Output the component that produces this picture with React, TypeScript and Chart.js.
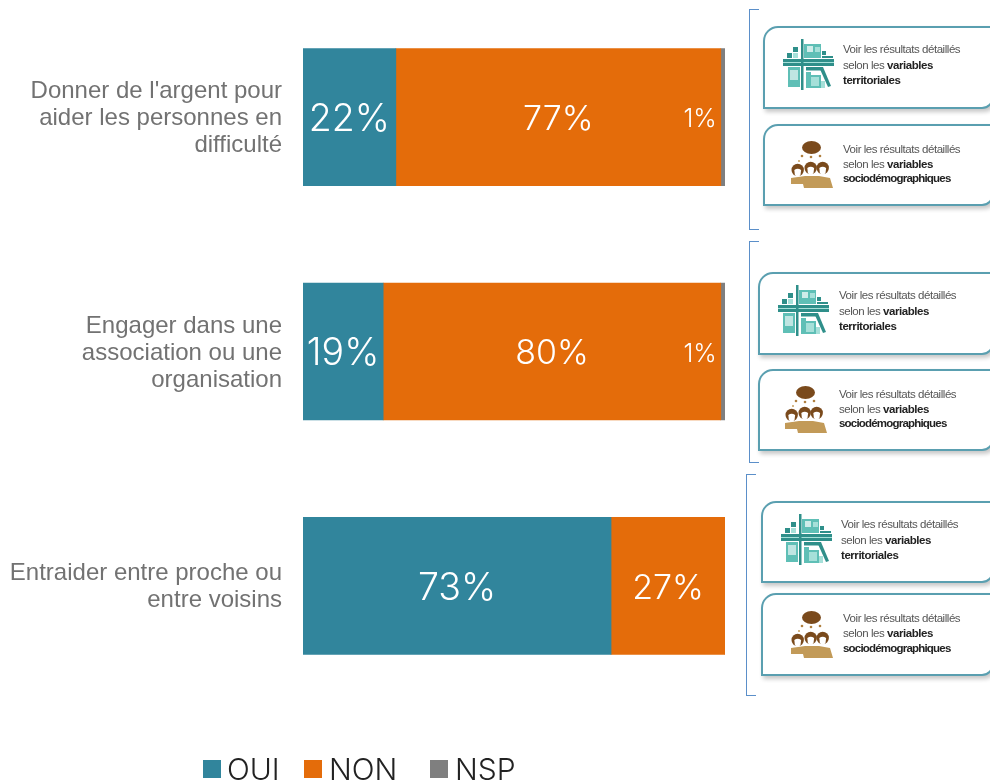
import React, { useEffect, useRef } from "react";
import { Chart, registerables } from "chart.js";

Chart.register(...registerables);

const categories: string[][] = [
  ["Donner de l'argent pour", "aider les personnes en", "difficulté"],
  ["Engager dans une", "association ou une", "organisation"],
  ["Entraider entre proche ou", "entre voisins"],
];
const oui = [22, 19, 73];
const non = [77, 80, 27];
const nsp = [1, 1, 0];
const seriesNames = ["OUI", "NON", "NSP"];
const seriesColors = ["#31859C", "#E46C0A", "#7F7F7F"];
const labelSizes = [37.5, 34, 25];

const FONT = '"Liberation Sans", Arial, sans-serif';
const LIGHT = 'Inter, "Liberation Sans", sans-serif';

const labelPlugin = {
  id: "valueLabels",
  afterDatasetsDraw(chart: any) {
    const { ctx } = chart;
    chart.data.datasets.forEach((ds: any, i: number) => {
      chart.getDatasetMeta(i).data.forEach((bar: any, j: number) => {
        const v = ds.data[j];
        if (!v) return;
        ctx.save();
        ctx.fillStyle = "#fff";
        ctx.font = `300 ${labelSizes[i]}px ${LIGHT}`;
        ctx.textBaseline = "middle";
        if (i === 2) {
          ctx.textAlign = "right";
          ctx.fillText(`${v}%`, bar.base - 4, bar.y + 2.5);
        } else {
          ctx.textAlign = "center";
          ctx.fillText(`${v}%`, (bar.base + bar.x) / 2, bar.y + 2.5);
        }
        ctx.restore();
      });
    });
  },
};

function TerritoryIcon({ x, y }: { x: number; y: number }) {
  const d = "#2F8F8A";
  const m = "#5FBFB6";
  const l = "#A6E0D9";
  return (
    <svg style={{ position: "absolute", left: x, top: y, filter: "blur(0.4px)" }} width={52} height={52} viewBox="0 0 52 52">
      <rect x={21} y={5} width={17} height={14} fill={m} />
      <rect x={24} y={7} width={6} height={6} fill="#fff" opacity={0.7} />
      <rect x={32} y={8} width={5} height={5} fill={l} />
      <rect x={10} y={8} width={5} height={5} fill={d} />
      <rect x={10} y={14} width={5} height={5} fill={l} />
      <rect x={4} y={14} width={5} height={5} fill={d} />
      <rect x={39} y={12} width={4} height={4} fill={d} />
      <rect x={39} y={17} width={11} height={2} fill={d} />
      <rect x={0} y={20} width={51} height={7} fill={d} />
      <rect x={0} y={23} width={51} height={1} fill={l} />
      <rect x={18} y={0} width={2.5} height={51} fill={d} />
      <rect x={5} y={28} width={12} height={20} fill={m} />
      <rect x={7} y={31} width={8} height={10} fill="#fff" opacity={0.6} />
      <rect x={23} y={28} width={16} height={3.5} fill={d} />
      <polygon points="36,28 40,28 48,47 45,48" fill={d} />
      <rect x={23} y={33} width={5} height={16} fill={m} />
      <rect x={26} y={36} width={12} height={13} fill={m} />
      <rect x={28} y={38} width={8} height={9} fill={l} />
      <rect x={38} y={42} width={4} height={7} fill={l} />
    </svg>
  );
}

function PeopleIcon({ x, y }: { x: number; y: number }) {
  const hair = "#7A4A1C";
  const tan = "#C29A58";
  const heads = [
    [6.7, 29],
    [19.7, 27],
    [31.7, 27],
  ];
  return (
    <svg style={{ position: "absolute", left: x, top: y, filter: "blur(0.4px)" }} width={44} height={48} viewBox="0 0 44 48">
      <ellipse cx={20.5} cy={6.5} rx={9.5} ry={6.5} fill={hair} />
      <circle cx={20} cy={16} r={1.3} fill="#B08040" />
      <circle cx={11} cy={15} r={1.3} fill="#B08040" />
      <circle cx={29} cy={15} r={1.3} fill="#B08040" />
      <circle cx={8} cy={20} r={1} fill="#C8A060" />
      <polygon points="0,37 14,35 28,35 39,37 42,47 13,47 12,43 0,43" fill={tan} />
      {heads.map(([cx, cy], i) => (
        <g key={i}>
          <circle cx={cx} cy={cy} r={6.2} fill={hair} />
          <path d={`M${cx - 3.4} ${cy} Q${cx} ${cy - 2.5} ${cx + 3.4} ${cy} L${cx + 2.8} ${cy + 5} Q${cx} ${cy + 9} ${cx - 2.8} ${cy + 5} Z`} fill="#fff" />
        </g>
      ))}
    </svg>
  );
}

type CardP = { x: number; y: number; h: number; ix: number; iy: number; tx: number; ty: number[]; bold: string; kind: "t" | "s" };

function Card({ x, y, h, ix, iy, tx, ty, bold, kind }: CardP) {
  const lineStyle: React.CSSProperties = {
    position: "absolute",
    left: tx,
    fontFamily: FONT,
    fontSize: 11.5,
    lineHeight: "14px",
    letterSpacing: "-0.45px",
    whiteSpace: "nowrap",
    color: "#555",
    filter: "blur(0.25px)",
  };
  return (
    <>
      <div
        style={{
          position: "absolute",
          left: x,
          top: y,
          width: 994 - x,
          height: h,
          boxSizing: "border-box",
          background: "#fff",
          border: "2px solid #5A9FB0",
          borderRadius: "15px 0 12px 0",
          boxShadow: "2px 3px 4px rgba(0,0,0,0.22)",
        }}
      />
      {kind === "t" ? <TerritoryIcon x={ix} y={iy} /> : <PeopleIcon x={ix} y={iy} />}
      <div style={{ ...lineStyle, top: ty[0] - 7 }}>Voir les résultats détaillés</div>
      <div style={{ ...lineStyle, top: ty[1] - 7 }}>
        selon les <b style={{ color: "#222" }}>variables</b>
      </div>
      <div style={{ ...lineStyle, top: ty[2] - 7, color: "#222", fontWeight: 700, letterSpacing: kind === "s" ? "-0.8px" : "-0.45px" }}>{bold}</div>
    </>
  );
}

function Bracket({ x, y, h }: { x: number; y: number; h: number }) {
  const c = "1px solid #5B8FC9";
  return (
    <div
      style={{
        position: "absolute",
        left: x,
        top: y,
        width: 10,
        height: h,
        boxSizing: "border-box",
        borderLeft: c,
        borderTop: c,
        borderBottom: c,
      }}
    />
  );
}

const TERR = "territoriales";
const SOC = "sociodémographiques";

const legendBoxX = [203, 304, 430];
const legendTextX = [228, 330, 456];

export default function App() {
  const ref = useRef<HTMLCanvasElement>(null);
  useEffect(() => {
    const data = [oui, non, nsp];
    const chart = new Chart(ref.current!, {
      type: "bar",
      data: {
        labels: categories as any,
        datasets: seriesNames.map((n, i) => ({
          label: n,
          data: data[i],
          backgroundColor: seriesColors[i],
          barThickness: 137,
          borderWidth: 0,
        })),
      },
      options: {
        indexAxis: "y",
        responsive: false,
        animation: false,
        layout: { padding: { top: 0, bottom: 79, left: 0, right: 265 } },
        plugins: { legend: { display: false }, tooltip: { enabled: false } },
        scales: {
          x: { stacked: true, min: 0, max: 100, display: false },
          y: {
            stacked: true,
            grid: { display: false, drawTicks: false },
            border: { display: false },
            afterFit: (s: any) => {
              s.width = 303;
              s.paddingTop = 0;
              s.paddingBottom = 0;
            },
            ticks: {
              color: "#727272",
              padding: 21,
              labelOffset: 1.5,
              autoSkip: false,
              font: { family: FONT, size: 24, lineHeight: 1.125 },
            },
          },
        },
      },
      plugins: [labelPlugin],
    } as any);
    return () => chart.destroy();
  }, []);

  return (
    <div style={{ position: "absolute", left: 0, top: 0, width: 990, height: 782, overflow: "hidden", background: "#fff" }}>
      <canvas ref={ref} width={990} height={782} style={{ position: "absolute", left: 0, top: 0 }} />

      <Bracket x={749} y={9} h={221} />
      <Card x={763} y={26} h={83} ix={783} iy={39} tx={843} ty={[49, 65, 80]} bold={TERR} kind="t" />
      <Card x={763} y={124} h={82} ix={791} iy={141} tx={843} ty={[149, 164, 178]} bold={SOC} kind="s" />

      <Bracket x={749} y={241} h={222} />
      <Card x={758} y={272} h={83} ix={778} iy={285} tx={839} ty={[295, 311, 326]} bold={TERR} kind="t" />
      <Card x={758} y={369} h={82} ix={785} iy={386} tx={839} ty={[394, 409, 423]} bold={SOC} kind="s" />

      <Bracket x={746} y={474} h={222} />
      <Card x={761} y={501} h={82} ix={781} iy={514} tx={841} ty={[524, 540, 555]} bold={TERR} kind="t" />
      <Card x={761} y={593} h={83} ix={791} iy={611} tx={843} ty={[618, 633, 648]} bold={SOC} kind="s" />

      {seriesNames.map((n, i) => (
        <React.Fragment key={n}>
          <div style={{ position: "absolute", left: legendBoxX[i], top: 760, width: 18, height: 18, background: seriesColors[i] }} />
          <div style={{ position: "absolute", left: legendTextX[i] - 1, top: 752, fontFamily: LIGHT, fontWeight: 300, fontSize: 30, lineHeight: "34px", color: "#222" }}>{n}</div>
        </React.Fragment>
      ))}
    </div>
  );
}
